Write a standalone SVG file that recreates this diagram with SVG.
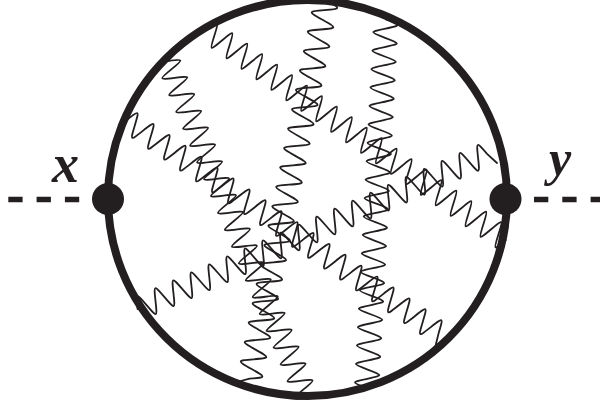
<svg xmlns="http://www.w3.org/2000/svg" width="600" height="409" viewBox="0 0 600 409">
<style>
.wave{fill:none;stroke:#231f20;stroke-width:1.8;stroke-linejoin:round;stroke-linecap:round}
.dash{fill:none;stroke:#231f20;stroke-width:5.5;stroke-dasharray:14.3 14}
.ring{fill:none;stroke:#231f20;stroke-width:8}
.dot{fill:#231f20}
.lab{font-family:"Liberation Serif",serif;font-weight:bold;font-style:italic;fill:#231f20}
</style>
<rect width="600" height="409" fill="#fff"/>
<g id="connectors">
<path class="wave" d="M207 30c12.47 -10.45 12.47 -10.45 7.47 5.25s
-5 15.69 7.47 5.25 12.47 -10.45 7.47 5.25 -5 15.69 7.47 5.25 12.47 -10.45 7.47 5.25 -5 15.69 7.47 5.25 12.47 -10.45 7.47 5.25 -5 15.69 7.47 5.25 12.47 -10.45 7.47 5.25
-5 15.69 7.47 5.25 12.47 -10.45 7.47 5.25 -5 15.69 7.47 5.25 12.47 -10.45 7.47 5.25 -5 15.69 7.47 5.25 12.47 -10.45 7.47 5.25 -5 15.69 7.47 5.25 12.47 -10.45 7.47 5.25
-5 15.69 7.47 5.25 12.47 -10.45 7.47 5.25 -5 15.69 7.47 5.25 12.47 -10.45 7.47 5.25 -5 15.69 7.47 5.25 12.47 -10.45 7.47 5.25 -5 15.69 7.47 5.25 12.47 -10.45 7.47 5.25
-5 15.69 7.47 5.25 12.47 -10.45 7.47 5.25 -5 15.69 7.47 5.25 12.47 -10.45 7.47 5.25 -5 15.69 7.47 5.25 12.47 -10.45 7.47 5.25 -5 15.69 7.47 5.25 12.47 -10.45 7.47 5.25
-5 15.69 7.47 5.25 12.47 -10.45 7.47 5.25 -5 15.69 7.47 5.25 12.47 -10.45 7.47 5.25 -5 15.69 7.47 5.25 12.47 -10.45 7.47 5.25 -5 15.69 7.47 5.25"/>
<path class="wave" d="M137.6 309.1c-1.79 -16.46 -1.79 -16.46 8.96 -3.98s
10.75 12.48 8.96 -3.98 -1.79 -16.46 8.96 -3.98 10.75 12.48 8.96 -3.98 -1.79 -16.46 8.96 -3.98 10.75 12.48 8.96 -3.98 -1.79 -16.46 8.96 -3.98 10.75 12.48 8.96 -3.98 -1.79 -16.46 8.96 -3.98
10.75 12.48 8.96 -3.98 -1.79 -16.46 8.96 -3.98 10.75 12.48 8.96 -3.98 -1.79 -16.46 8.96 -3.98 10.75 12.48 8.96 -3.98 -1.79 -16.46 8.96 -3.98 10.75 12.48 8.96 -3.98 -1.79 -16.46 8.96 -3.98
10.75 12.48 8.96 -3.98 -1.79 -16.46 8.96 -3.98 10.75 12.48 8.96 -3.98 -1.79 -16.46 8.96 -3.98 10.75 12.48 8.96 -3.98 -1.79 -16.46 8.96 -3.98 10.75 12.48 8.96 -3.98 -1.79 -16.46 8.96 -3.98
10.75 12.48 8.96 -3.98 -1.79 -16.46 8.96 -3.98 10.75 12.48 8.96 -3.98 -1.79 -16.46 8.96 -3.98 10.75 12.48 8.96 -3.98 -1.79 -16.46 8.96 -3.98 10.75 12.48 8.96 -3.98 -1.79 -16.46 8.96 -3.98
10.75 12.48 8.96 -3.98 -1.79 -16.46 8.96 -3.98 10.75 12.48 8.96 -3.98 -1.79 -16.46 8.96 -3.98 10.75 12.48 8.96 -3.98 -1.79 -16.46 8.96 -3.98L497 163"/>
<path class="wave" d="M126.8 120c12.67 -10.08 12.67 -10.08 8 5.45s
-4.67 15.53 8 5.45 12.67 -10.08 8 5.45 -4.67 15.53 8 5.45 12.67 -10.08 8 5.45 -4.67 15.53 8 5.45 12.67 -10.08 8 5.45 -4.67 15.53 8 5.45 12.67 -10.08 8 5.45
-4.67 15.53 8 5.45 12.67 -10.08 8 5.45 -4.67 15.53 8 5.45 12.67 -10.08 8 5.45 -4.67 15.53 8 5.45 12.67 -10.08 8 5.45 -4.67 15.53 8 5.45 12.67 -10.08 8 5.45
-4.67 15.53 8 5.45 12.67 -10.08 8 5.45 -4.67 15.53 8 5.45 12.67 -10.08 8 5.45 -4.67 15.53 8 5.45 12.67 -10.08 8 5.45 -4.67 15.53 8 5.45 12.67 -10.08 8 5.45
-4.67 15.53 8 5.45 12.67 -10.08 8 5.45 -4.67 15.53 8 5.45 12.67 -10.08 8 5.45 -4.67 15.53 8 5.45 12.67 -10.08 8 5.45 -4.67 15.53 8 5.45 12.67 -10.08 8 5.45
-4.67 15.53 8 5.45 12.67 -10.08 8 5.45 -4.67 15.53 8 5.45 12.67 -10.08 8 5.45 -4.67 15.53 8 5.45 12.67 -10.08 8 5.45L435 348"/>
<path class="wave" d="M167.8 61c16.14 -1.92 16.14 -1.92 3.48 8.42s
-12.66 10.34 3.48 8.42 16.14 -1.92 3.48 8.42 -12.66 10.34 3.48 8.42 16.14 -1.92 3.48 8.42 -12.66 10.34 3.48 8.42 16.14 -1.92 3.48 8.42 -12.66 10.34 3.48 8.42 16.14 -1.92 3.48 8.42
-12.66 10.34 3.48 8.42 16.14 -1.92 3.48 8.42 -12.66 10.34 3.48 8.42 16.14 -1.92 3.48 8.42 -12.66 10.34 3.48 8.42 16.14 -1.92 3.48 8.42 -12.66 10.34 3.48 8.42 16.14 -1.92 3.48 8.42
-12.66 10.34 3.48 8.42 16.14 -1.92 3.48 8.42 -12.66 10.34 3.48 8.42 16.14 -1.92 3.48 8.42 -12.66 10.34 3.48 8.42 16.14 -1.92 3.48 8.42 -12.66 10.34 3.48 8.42 16.14 -1.92 3.48 8.42
-12.66 10.34 3.48 8.42 16.14 -1.92 3.48 8.42 -12.66 10.34 3.48 8.42 16.14 -1.92 3.48 8.42 -12.66 10.34 3.48 8.42 16.14 -1.92 3.48 8.42 -12.66 10.34 3.48 8.42 16.14 -1.92 3.48 8.42
-12.66 10.34 3.48 8.42 16.14 -1.92 3.48 8.42 -12.66 10.34 3.48 8.42 16.14 -1.92 3.48 8.42 -12.66 10.34 3.48 8.42 16.14 -1.92 3.48 8.42 -12.66 10.34 3.48 8.42"/>
<path class="wave" d="M326.44 .4c14.75 8.32 14.75 8.32 -1.97 9.7s
-16.72 1.38 -1.97 9.7 14.75 8.32 -1.97 9.7 -16.72 1.38 -1.97 9.7 14.75 8.32 -1.97 9.7 -16.72 1.38 -1.97 9.7 14.75 8.32 -1.97 9.7 -16.72 1.38 -1.97 9.7 14.75 8.32 -1.97 9.7
-16.72 1.38 -1.97 9.7 14.75 8.32 -1.97 9.7 -16.72 1.38 -1.97 9.7 14.75 8.32 -1.97 9.7 -16.72 1.38 -1.97 9.7 14.75 8.32 -1.97 9.7 -16.72 1.38 -1.97 9.7 14.75 8.32 -1.97 9.7
-16.72 1.38 -1.97 9.7 14.75 8.32 -1.97 9.7 -16.72 1.38 -1.97 9.7 14.75 8.32 -1.97 9.7 -16.72 1.38 -1.97 9.7 14.75 8.32 -1.97 9.7 -16.72 1.38 -1.97 9.7 14.75 8.32 -1.97 9.7
-16.72 1.38 -1.97 9.7 14.75 8.32 -1.97 9.7 -16.72 1.38 -1.97 9.7 14.75 8.32 -1.97 9.7 -16.72 1.38 -1.97 9.7 14.75 8.32 -1.97 9.7 -16.72 1.38 -1.97 9.7 14.75 8.32 -1.97 9.7
-16.72 1.38 -1.97 9.7 14.75 8.32 -1.97 9.7 -16.72 1.38 -1.97 9.7 14.75 8.32 -1.97 9.7 -16.72 1.38 -1.97 9.7 14.75 8.32 -1.97 9.7L237 382"/>
<path class="wave" d="M386 19.4c15.68 5.81 15.68 5.81 -.483 9.215s
-16.16 3.41 -.483 9.215 15.68 5.81 -.483 9.215 -16.16 3.41 -.483 9.215 15.68 5.81 -.483 9.215 -16.16 3.41 -.483 9.215 15.68 5.81 -.483 9.215 -16.16 3.41 -.483 9.215 15.68 5.81 -.483 9.215
-16.16 3.41 -.483 9.215 15.68 5.81 -.483 9.215 -16.16 3.41 -.483 9.215 15.68 5.81 -.483 9.215 -16.16 3.41 -.483 9.215 15.68 5.81 -.483 9.215 -16.16 3.41 -.483 9.215 15.68 5.81 -.483 9.215
-16.16 3.41 -.483 9.215 15.68 5.81 -.483 9.215 -16.16 3.41 -.483 9.215 15.68 5.81 -.483 9.215 -16.16 3.41 -.483 9.215 15.68 5.81 -.483 9.215 -16.16 3.41 -.483 9.215 15.68 5.81 -.483 9.215
-16.16 3.41 -.483 9.215 15.68 5.81 -.483 9.215 -16.16 3.41 -.483 9.215 15.68 5.81 -.483 9.215 -16.16 3.41 -.483 9.215 15.68 5.81 -.483 9.215 -16.16 3.41 -.483 9.215 15.68 5.81 -.483 9.215
-16.16 3.41 -.483 9.215 15.68 5.81 -.483 9.215 -16.16 3.41 -.483 9.215 15.68 5.81 -.483 9.215 -16.16 3.41 -.483 9.215 15.68 5.81 -.483 9.215 -16.16 3.41 -.483 9.215"/>
<path class="dash" d="M8.3 199.5H92"/>
<path class="dash" d="M534 199.5H600"/>
</g>
<g id="loop"><ellipse class="ring" cx="307.5" cy="198" rx="199.5" ry="198"/></g>
<g id="vertex-x"><circle class="dot" cx="108" cy="199" r="16"/><text class="lab" x="52" y="182" font-size="54">x</text></g>
<g id="vertex-y"><circle class="dot" cx="505.5" cy="199" r="16"/><text class="lab" x="549" y="175" font-size="50">y</text></g>
</svg>
